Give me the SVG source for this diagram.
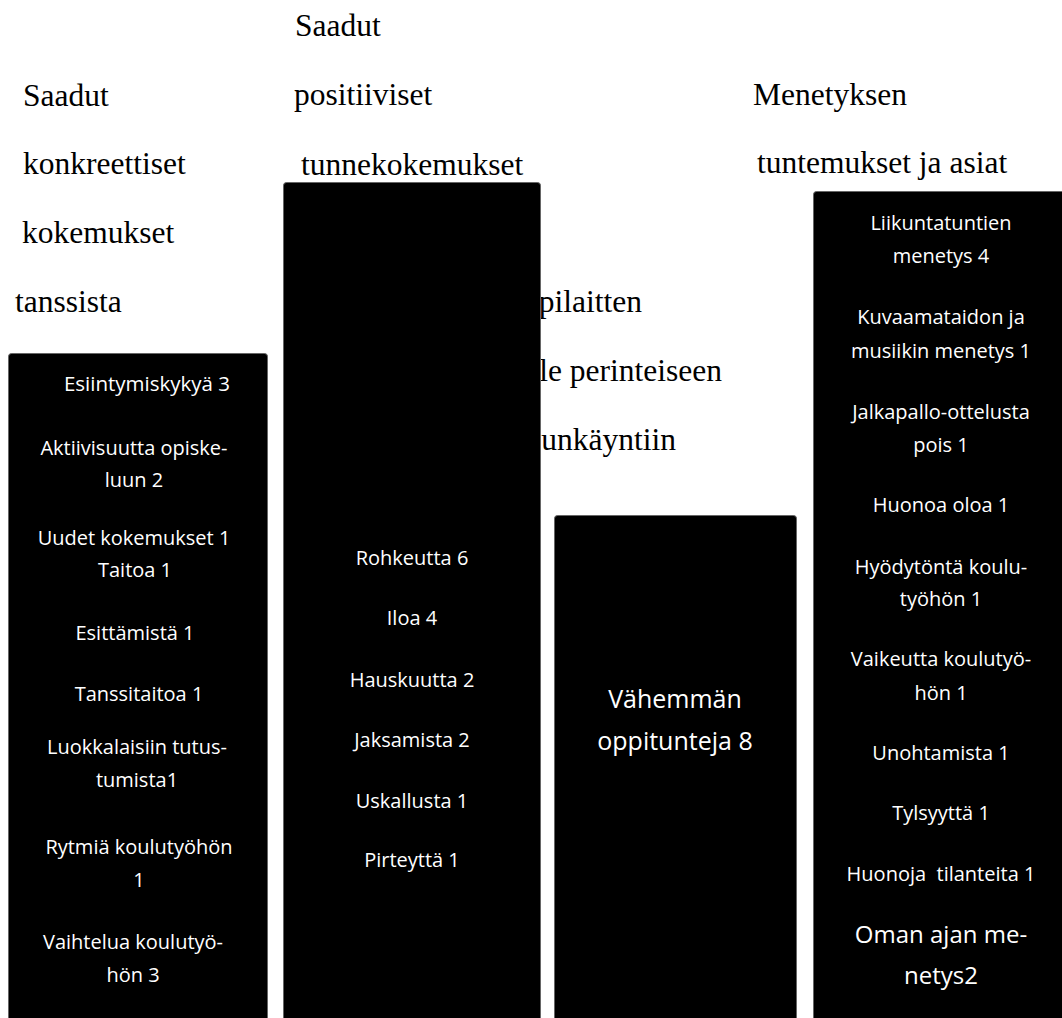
<svg xmlns="http://www.w3.org/2000/svg" width="1062" height="1018" viewBox="0 0 1062 1018">
<style>
.h{font-family:"Liberation Serif","Times New Roman",serif;font-size:31.5px;fill:#000}
.box{fill:#000;stroke:#666;stroke-width:1}
.t{font-family:"Open Sans","Noto Sans",sans-serif;font-size:20px;fill:#fff;text-anchor:middle}
.tl{font-family:"Open Sans","Noto Sans",sans-serif;font-size:25px;fill:#fff;text-anchor:middle}
.tm{font-family:"Open Sans","Noto Sans",sans-serif;font-size:24px;fill:#fff;text-anchor:middle}
</style>
<rect width="1062" height="1018" fill="#fff"/>
<g id="heading1">
<text class="h" x="23" y="106">Saadut</text>
<text class="h" x="23" y="174">konkreettiset</text>
<text class="h" x="22" y="243">kokemukset</text>
<text class="h" x="15" y="312">tanssista</text>
</g>
<g id="heading2">
<text class="h" x="295" y="36">Saadut</text>
<text class="h" x="294" y="105">positiiviset</text>
<text class="h" x="301" y="175">tunnekokemukset</text>
</g>
<g id="heading3">
<text class="h" x="642" y="312" text-anchor="end">pilaitten</text>
<text class="h" x="722" y="381" text-anchor="end">le perinteiseen</text>
<text class="h" x="676" y="450" text-anchor="end">unkäyntiin</text>
</g>
<g id="heading4">
<text class="h" x="753" y="105">Menetyksen</text>
<text class="h" x="757" y="173">tuntemukset ja asiat</text>
</g>
<g id="connectors"></g>
<g id="node1">
<rect class="box" x="8.5" y="353.5" width="259" height="680" rx="3"/>
<text class="t" x="147" y="391" style="font-size:20.5px">Esiintymiskykyä 3</text>
<text class="t" x="134" y="455">Aktiivisuutta opiske-</text>
<text class="t" x="134" y="487">luun 2</text>
<text class="t" x="134" y="545">Uudet kokemukset 1</text>
<text class="t" x="135" y="577">Taitoa 1</text>
<text class="t" x="135" y="640">Esittämistä 1</text>
<text class="t" x="139" y="701">Tanssitaitoa 1</text>
<text class="t" x="137" y="754">Luokkalaisiin tutus-</text>
<text class="t" x="137" y="787">tumista1</text>
<text class="t" x="139" y="854">Rytmiä koulutyöhön</text>
<text class="t" x="139" y="887">1</text>
<text class="t" x="133" y="949">Vaihtelua koulutyö-</text>
<text class="t" x="133" y="982">hön 3</text>
</g>
<g id="node2">
<rect class="box" x="283.5" y="182.5" width="257" height="850" rx="3"/>
<text class="t" x="412" y="565">Rohkeutta 6</text>
<text class="t" x="412" y="625">Iloa 4</text>
<text class="t" x="412" y="687">Hauskuutta 2</text>
<text class="t" x="412" y="747">Jaksamista 2</text>
<text class="t" x="412" y="808">Uskallusta 1</text>
<text class="t" x="412" y="867">Pirteyttä 1</text>
</g>
<g id="node3">
<rect class="box" x="554.5" y="515.5" width="242" height="520" rx="3"/>
<text class="tl" x="675" y="708">Vähemmän</text>
<text class="tl" x="675" y="750">oppitunteja 8</text>
</g>
<g id="node4">
<rect class="box" x="813.5" y="191.5" width="260" height="840" rx="3"/>
<text class="t" x="941" y="230">Liikuntatuntien</text>
<text class="t" x="941" y="263">menetys 4</text>
<text class="t" x="941" y="324">Kuvaamataidon ja</text>
<text class="t" x="941" y="358">musiikin menetys 1</text>
<text class="t" x="941" y="419">Jalkapallo-ottelusta</text>
<text class="t" x="941" y="452">pois 1</text>
<text class="t" x="941" y="512">Huonoa oloa 1</text>
<text class="t" x="941" y="574">Hyödytöntä koulu-</text>
<text class="t" x="941" y="606">työhön 1</text>
<text class="t" x="941" y="666">Vaikeutta koulutyö-</text>
<text class="t" x="941" y="700">hön 1</text>
<text class="t" x="941" y="760">Unohtamista 1</text>
<text class="t" x="941" y="820">Tylsyyttä 1</text>
<text class="t" x="941" y="881" xml:space="preserve" style="white-space:pre">Huonoja  tilanteita 1</text>
<text class="tm" x="941" y="943">Oman ajan me-</text>
<text class="tm" x="941" y="984">netys2</text>
</g>
</svg>
